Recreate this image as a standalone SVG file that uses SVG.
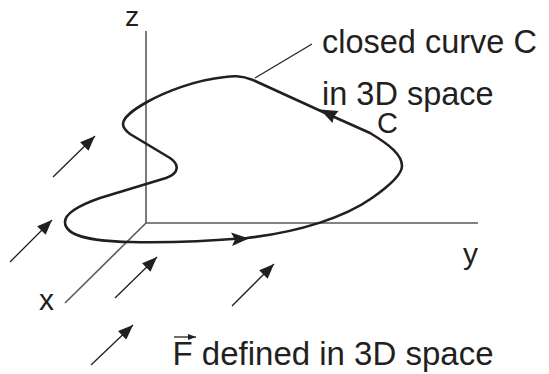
<svg xmlns="http://www.w3.org/2000/svg" width="549" height="374" viewBox="0 0 549 374">
<defs>
<marker id="ah" markerUnits="userSpaceOnUse" markerWidth="16" markerHeight="12" viewBox="0 0 16 12" refX="15" refY="6" orient="auto">
<path d="M0,0 L15,6 L0,12 Z" fill="#231f20"/>
</marker>
<marker id="ahs" markerUnits="userSpaceOnUse" markerWidth="8" markerHeight="6" viewBox="0 0 8 6" refX="8" refY="3" orient="auto">
<path d="M0,0 L8,3 L0,6 Z" fill="#231f20"/>
</marker>
</defs>
<style>
.axis{stroke:#5a5a5a;stroke-width:1.6;fill:none}
.curve{stroke:#231f20;stroke-width:2.6;fill:none;stroke-linejoin:round}
.field{stroke:#231f20;stroke-width:1.3;fill:none;marker-end:url(#ah)}
.lbl{font-family:"Liberation Sans",Arial,sans-serif;fill:#231f20}
.head{fill:#231f20}
</style>
<g id="axes">
<line class="axis" x1="146" y1="31" x2="146" y2="223"/>
<line class="axis" x1="146" y1="223" x2="478" y2="223"/>
<line class="axis" x1="146" y1="223" x2="65" y2="303"/>
<text class="lbl" x="125" y="26" font-size="28.5">z</text>
<text class="lbl" x="39" y="310" font-size="30">x</text>
<text class="lbl" x="463" y="264" font-size="30">y</text>
</g>
<g id="curveC">
<path class="curve" d="M65,222 C65,236 90,241 130,242 C170,243 210,241 247,238 C300,232 345,217 372,198 C392,184 402,174 402,166 C402,155 390,145 370,133 L323,112 L253,80 C240,75 232,76 225,77 C195,80 165,92 147,102 C133,110 123,117 123,124 C123,128 126,131 130,134 L170,158 C179,164 180,173 166,178 L100,198 C80,205 65,213 65,222 Z"/>
<polygon class="head" points="249,238.5 231,232.5 235,239.5 232,246"/>
<polygon class="head" points="320,109.5 338.5,111 334,116.5 332.5,123"/>
<text class="lbl" x="377" y="133" font-size="29">C</text>
</g>
<g id="label">
<line x1="255" y1="78" x2="312" y2="44" stroke="#231f20" stroke-width="1.2"/>
<text class="lbl" x="322" y="53" font-size="32.5">closed curve C</text>
<text class="lbl" x="322" y="105" font-size="32.5">in 3D space</text>
</g>
<g id="field">
<line class="field" x1="10" y1="262" x2="52" y2="220"/>
<line class="field" x1="115" y1="298" x2="157" y2="257"/>
<line class="field" x1="91" y1="365" x2="133" y2="325"/>
<line class="field" x1="232" y1="306" x2="274" y2="264"/>
<line class="field" x1="53" y1="177" x2="95" y2="136"/>
</g>
<g id="Flabel">
<line x1="174" y1="337" x2="196" y2="337" stroke="#231f20" stroke-width="1.3" marker-end="url(#ahs)"/>
<text class="lbl" x="172.5" y="364.5" font-size="33">F defined in 3D space</text>
</g>
</svg>
